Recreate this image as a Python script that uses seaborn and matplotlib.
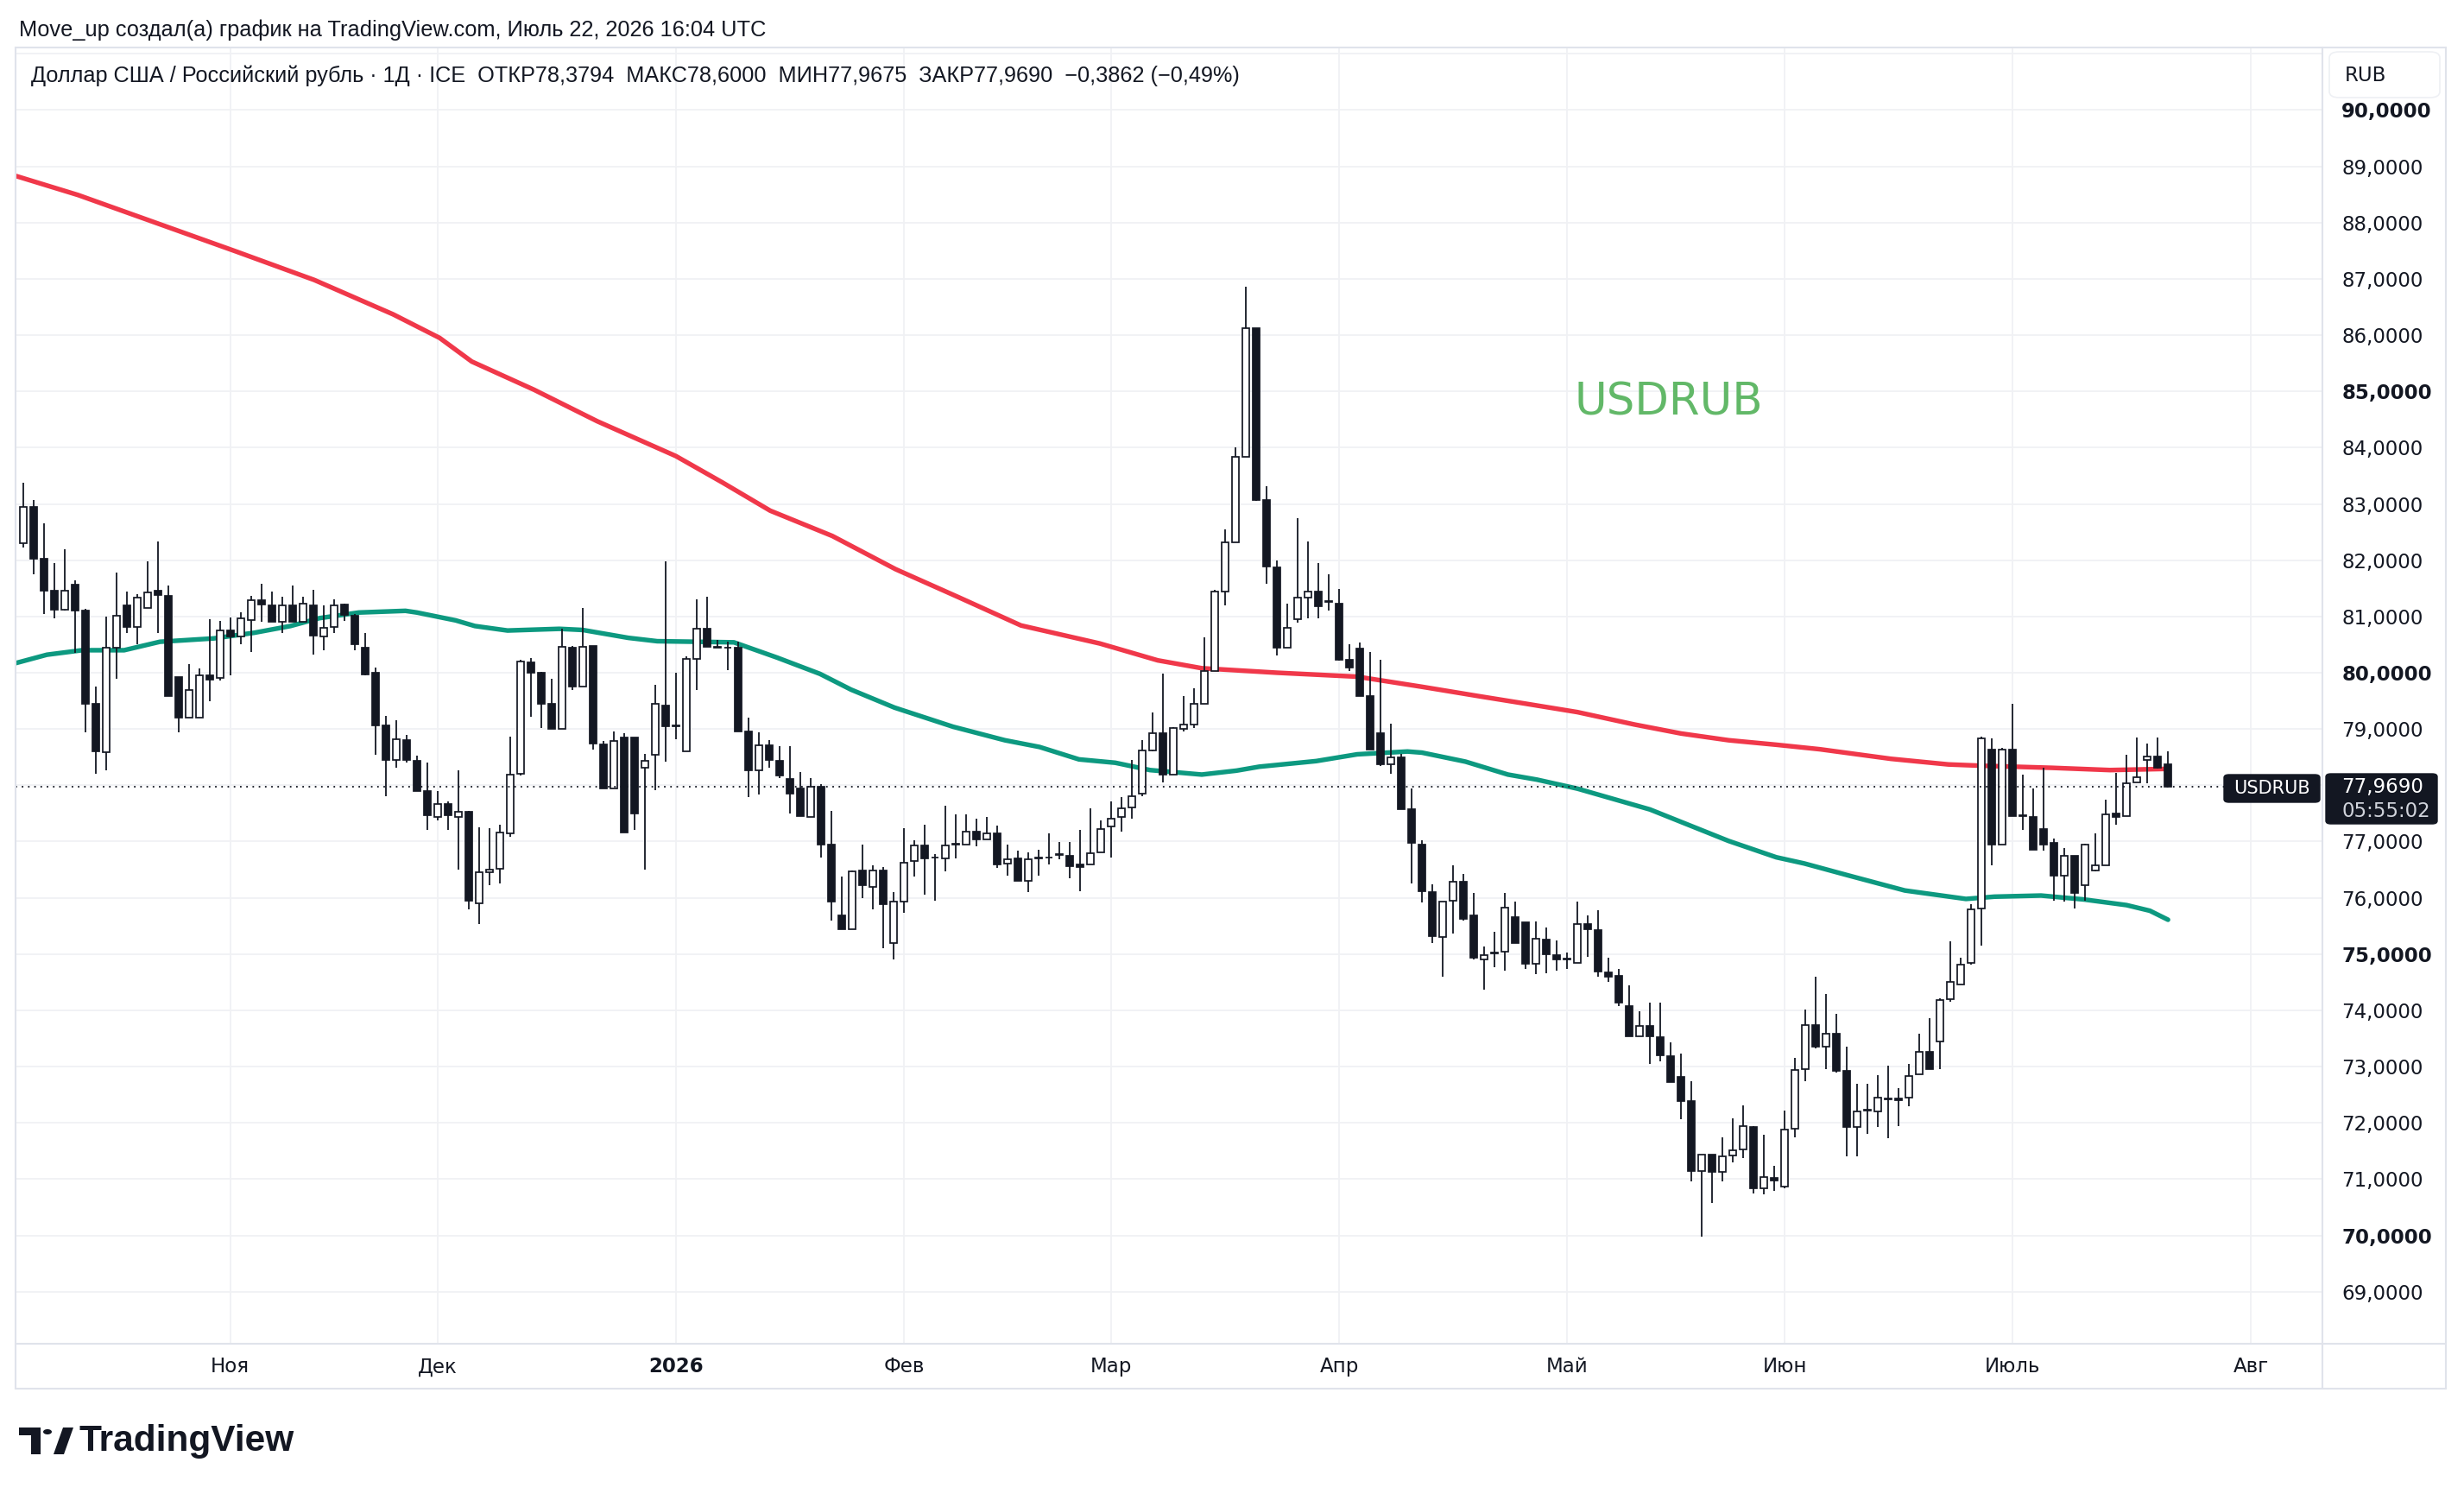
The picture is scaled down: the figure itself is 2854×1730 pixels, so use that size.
import matplotlib
matplotlib.use("Agg")
import matplotlib.pyplot as plt
from matplotlib.lines import Line2D
from matplotlib.patches import FancyBboxPatch, Circle, Polygon, Rectangle
import seaborn as sns
import pandas as pd
import numpy as np

# --- дневные свечи USDRUB ---
opens = [82.30, 82.94, 82.02, 81.46, 81.12, 81.56, 81.10, 79.45, 78.59, 80.45,
         81.19, 80.81, 81.15, 81.46, 81.36, 79.93, 79.20, 79.20, 79.96, 79.91,
         80.75, 80.65, 80.93, 81.29, 81.20, 80.91, 81.20, 80.90, 81.20, 80.65,
         80.81, 81.21, 81.01, 80.44, 80.00, 79.07, 78.45, 78.81, 78.44, 77.90,
         77.44, 77.66, 77.44, 77.53, 75.90, 76.45, 76.51, 77.15, 78.20, 80.19,
         80.00, 79.44, 79.00, 80.44, 79.75, 80.48, 78.73, 77.94, 78.85, 78.85,
         78.31, 78.54, 79.42, 79.05, 78.61, 80.25, 80.78, 80.46, 80.45, 80.44,
         78.96, 78.27, 78.71, 78.44, 78.11, 77.94, 77.44, 77.98, 76.94, 75.68,
         75.44, 76.48, 76.19, 76.48, 75.19, 75.94, 76.65, 76.93, 76.71, 76.70,
         76.95, 76.95, 77.18, 77.04, 77.15, 76.61, 76.70, 76.30, 76.70, 76.71,
         76.76, 76.74, 76.60, 76.60, 76.81, 77.27, 77.44, 77.61, 77.85, 78.62,
         78.92, 78.19, 79.00, 79.08, 79.45, 80.03, 81.45, 82.32, 83.84, 86.12,
         83.07, 81.87, 80.44, 80.95, 81.33, 81.45, 81.27, 81.22, 80.23, 80.43,
         79.58, 78.93, 78.37, 78.50, 77.57, 76.95, 76.10, 75.30, 75.95, 76.28,
         75.68, 74.91, 75.01, 75.05, 75.65, 75.56, 74.83, 75.25, 74.98, 74.91,
         74.84, 75.54, 75.43, 74.67, 74.61, 74.07, 73.54, 73.73, 73.53, 73.18,
         72.82, 72.38, 71.15, 71.43, 71.13, 71.42, 71.53, 71.92, 70.84, 71.02,
         70.87, 71.89, 72.96, 73.74, 73.35, 73.58, 72.93, 71.93, 72.22, 72.21,
         72.42, 72.43, 72.45, 72.86, 73.27, 73.44, 74.20, 74.46, 74.85, 75.81,
         78.64, 76.95, 78.64, 77.45, 77.44, 77.22, 76.97, 76.39, 76.75, 76.23,
         76.48, 76.58, 77.50, 77.45, 78.05, 78.45, 78.51, 78.3794]
highs = [83.38, 83.07, 82.66, 81.95, 82.20, 81.64, 81.13, 79.75, 81.00, 81.78,
         81.44, 81.39, 81.98, 82.33, 81.55, 79.93, 80.15, 80.07, 80.95, 80.92,
         80.98, 81.07, 81.37, 81.58, 81.44, 81.35, 81.55, 81.35, 81.48, 81.20,
         81.30, 81.22, 81.04, 80.70, 80.09, 79.23, 79.16, 78.90, 78.53, 78.40,
         77.90, 77.72, 78.26, 77.55, 77.26, 77.23, 77.30, 78.87, 80.23, 80.26,
         80.01, 79.89, 80.79, 80.47, 81.15, 80.48, 78.78, 78.96, 78.92, 78.85,
         78.56, 79.78, 81.98, 80.00, 80.29, 81.30, 81.35, 80.59, 80.55, 80.56,
         79.20, 78.94, 78.80, 78.70, 78.70, 78.24, 78.13, 78.02, 77.54, 76.38,
         76.48, 76.94, 76.58, 76.55, 76.10, 77.23, 77.02, 77.30, 76.77, 77.63,
         77.49, 77.49, 77.40, 77.44, 77.29, 76.94, 76.84, 76.80, 76.85, 77.15,
         76.99, 76.99, 77.21, 77.59, 77.37, 77.71, 77.79, 78.45, 78.81, 79.29,
         79.99, 79.04, 79.58, 79.73, 80.63, 81.47, 82.55, 84.01, 86.86, 86.13,
         83.32, 81.99, 81.23, 82.74, 82.33, 81.95, 81.75, 81.49, 80.50, 80.54,
         80.37, 80.23, 79.09, 78.56, 77.94, 77.02, 76.24, 75.94, 76.58, 76.43,
         76.08, 75.13, 75.39, 76.08, 75.94, 75.56, 75.58, 75.48, 75.24, 75.02,
         75.93, 75.69, 75.78, 74.93, 74.73, 74.44, 73.98, 74.14, 74.14, 73.43,
         73.23, 72.74, 71.44, 71.43, 71.74, 72.08, 72.31, 71.94, 71.79, 71.24,
         72.22, 73.16, 74.02, 74.60, 74.29, 73.94, 73.35, 72.69, 72.69, 72.85,
         73.01, 72.62, 73.04, 73.59, 73.86, 74.22, 75.22, 74.94, 75.89, 78.86,
         78.83, 78.67, 79.45, 78.19, 77.94, 78.31, 77.06, 76.89, 76.75, 76.96,
         77.15, 77.74, 78.22, 78.54, 78.85, 78.74, 78.85, 78.6000]
lows = [82.22, 81.75, 81.04, 80.96, 81.10, 80.35, 78.94, 78.20, 78.26, 79.90,
        80.71, 80.51, 81.15, 80.70, 79.59, 78.94, 79.20, 79.20, 79.50, 79.86,
        79.96, 80.51, 80.37, 80.91, 80.91, 80.70, 80.91, 80.90, 80.32, 80.40,
        80.71, 80.92, 80.40, 79.95, 78.54, 77.81, 78.31, 78.40, 77.90, 77.20,
        77.37, 77.21, 76.50, 75.80, 75.53, 76.23, 76.26, 77.08, 78.18, 79.21,
        79.02, 79.00, 79.00, 79.70, 79.75, 78.63, 77.94, 77.94, 77.16, 77.20,
        76.50, 77.91, 78.42, 78.82, 78.61, 79.70, 80.46, 80.45, 80.05, 78.95,
        77.79, 77.83, 78.31, 78.13, 77.50, 77.45, 77.44, 76.72, 75.59, 75.44,
        75.44, 75.99, 75.80, 75.11, 74.90, 75.74, 76.38, 76.06, 75.95, 76.47,
        76.70, 76.95, 76.92, 77.04, 76.53, 76.39, 76.30, 76.10, 76.39, 76.60,
        76.69, 76.34, 76.11, 76.60, 76.81, 76.71, 77.17, 77.40, 77.80, 78.61,
        78.05, 78.19, 78.95, 79.01, 79.45, 80.03, 81.19, 82.32, 83.84, 83.06,
        81.58, 80.31, 80.44, 80.89, 80.96, 80.97, 81.11, 80.21, 80.03, 79.59,
        78.63, 78.35, 78.20, 77.57, 76.25, 75.92, 75.19, 74.59, 75.36, 75.59,
        74.91, 74.36, 74.76, 74.70, 75.20, 74.74, 74.64, 74.66, 74.70, 74.73,
        74.84, 74.95, 74.60, 74.51, 74.07, 73.54, 73.54, 73.04, 73.09, 72.72,
        72.06, 70.96, 69.98, 70.58, 70.96, 71.30, 71.38, 70.74, 70.73, 70.79,
        70.84, 71.74, 72.74, 73.32, 72.96, 72.90, 71.41, 71.41, 71.80, 71.93,
        71.72, 71.94, 72.30, 72.86, 72.96, 72.96, 74.15, 74.46, 74.81, 75.15,
        76.57, 76.95, 77.45, 77.21, 76.85, 76.84, 75.95, 75.94, 75.81, 75.95,
        76.47, 76.58, 77.30, 77.45, 78.05, 78.04, 78.30, 77.9675]
closes = [82.94, 82.02, 81.46, 81.12, 81.46, 81.10, 79.44, 78.60, 80.44, 81.01,
          80.81, 81.33, 81.43, 81.38, 79.59, 79.20, 79.69, 79.96, 79.88, 80.75,
          80.65, 80.96, 81.29, 81.21, 80.91, 81.20, 80.91, 81.22, 80.66, 80.80,
          81.20, 81.03, 80.51, 79.97, 79.07, 78.45, 78.82, 78.45, 77.90, 77.46,
          77.67, 77.46, 77.53, 75.95, 76.46, 76.50, 77.16, 78.19, 80.20, 80.00,
          79.45, 79.00, 80.46, 79.75, 80.46, 78.74, 77.94, 78.79, 77.16, 77.50,
          78.44, 79.44, 79.05, 79.05, 80.25, 80.79, 80.46, 80.45, 80.44, 78.95,
          78.27, 78.71, 78.45, 78.18, 77.85, 77.45, 77.98, 76.94, 75.93, 75.44,
          76.47, 76.23, 76.48, 75.88, 75.94, 76.63, 76.93, 76.70, 76.71, 76.93,
          76.96, 77.18, 77.04, 77.15, 76.59, 76.69, 76.30, 76.69, 76.71, 76.71,
          76.77, 76.56, 76.55, 76.79, 77.22, 77.41, 77.59, 77.81, 78.62, 78.92,
          78.19, 79.01, 79.08, 79.44, 80.03, 81.45, 82.32, 83.84, 86.12, 83.07,
          81.89, 80.44, 80.80, 81.33, 81.45, 81.18, 81.26, 80.23, 80.09, 79.59,
          78.63, 78.37, 78.49, 77.57, 76.97, 76.12, 75.32, 75.94, 76.28, 75.63,
          74.93, 74.98, 75.01, 75.82, 75.20, 74.83, 75.27, 75.00, 74.90, 74.91,
          75.54, 75.44, 74.69, 74.60, 74.13, 73.54, 73.73, 73.54, 73.20, 72.72,
          72.38, 71.15, 71.43, 71.13, 71.41, 71.52, 71.94, 70.84, 71.03, 70.98,
          71.88, 72.94, 73.74, 73.35, 73.58, 72.93, 71.93, 72.21, 72.22, 72.45,
          72.43, 72.40, 72.84, 73.27, 72.96, 74.18, 74.50, 74.82, 75.80, 78.83,
          76.95, 78.64, 77.45, 77.45, 76.85, 76.94, 76.39, 76.74, 76.09, 76.94,
          76.57, 77.49, 77.44, 78.04, 78.14, 78.51, 78.31, 77.9690]

# скользящие средние (позиция бара, значение)
ma_red_x = [-0.73, 5.3, 12.9, 20.5, 28.1, 35.7, 40.2, 43.3, 49.3, 55.4, 63.0, 67.5,
            72.1, 78.1, 84.2, 90.3, 96.3, 103.9, 105.4, 109.5, 113.75, 121.0, 128.75,
            135.0, 140.6, 145.0, 150.0, 155.5, 160.0, 164.6, 169.2, 173.4, 180.25,
            185.8, 188.6, 190.25, 195.8, 201.4, 206.6, 207.0]
ma_red_y = [88.83, 88.49, 87.99, 87.49, 86.98, 86.37, 85.95, 85.53, 85.03, 84.47,
            83.85, 83.38, 82.88, 82.43, 81.84, 81.34, 80.84, 80.52, 80.44, 80.22,
            80.08, 80.00, 79.93, 79.75, 79.58, 79.45, 79.30, 79.08, 78.92, 78.80,
            78.72, 78.64, 78.47, 78.37, 78.35, 78.34, 78.31, 78.27, 78.29, 78.30]
ma_green_x = [-0.73, 2.3, 5.7, 9.75, 13.2, 18.4, 22.3, 25.8, 28.6, 32.4, 36.9, 38.0,
              41.75, 43.6, 46.75, 51.75, 54.0, 58.4, 61.2, 65.1, 68.6, 72.75, 76.9,
              79.9, 84.1, 89.75, 94.75, 98.1, 101.9, 105.4, 108.75, 113.75, 117.1,
              119.3, 124.8, 128.75, 133.6, 135.0, 139.2, 143.3, 146.1, 150.0, 157.0,
              164.6, 169.2, 171.9, 176.1, 181.6, 187.5, 190.25, 194.75, 198.9, 203.0,
              205.25, 207.0]
ma_green_y = [80.17, 80.32, 80.40, 80.40, 80.55, 80.61, 80.71, 80.83, 80.97, 81.07,
              81.10, 81.07, 80.93, 80.83, 80.75, 80.78, 80.76, 80.62, 80.56, 80.55,
              80.54, 80.27, 79.98, 79.70, 79.38, 79.04, 78.80, 78.68, 78.46, 78.40,
              78.27, 78.19, 78.26, 78.33, 78.43, 78.55, 78.60, 78.58, 78.42, 78.19,
              78.10, 77.94, 77.57, 77.01, 76.72, 76.61, 76.40, 76.13, 75.98, 76.02,
              76.04, 75.97, 75.87, 75.77, 75.61]

month_pos = [20, 40, 63, 85, 105, 127, 149, 170, 192, 215]
month_labels = ['Ноя', 'Дек', '2026', 'Фев', 'Мар', 'Апр', 'Май', 'Июн', 'Июль', 'Авг']
price_ticks = list(range(69, 92))
last_price = 77.969

W, H = 2854, 1730
dark = '#131722'
frame_col = '#e0e3eb'

sns.set_theme(style="white")
plt.rcParams['font.family'] = ['DejaVu Sans']

fig = plt.figure(figsize=(W / 100, H / 100), dpi=100)
ax = fig.add_axes([18 / W, 1 - 1556 / H, (2690 - 18) / W, (1556 - 56) / H])

df = pd.DataFrame({'open': opens, 'high': highs, 'low': lows, 'close': closes})
df['x'] = np.arange(len(df))
df['up'] = df['close'] >= df['open']
df['bottom'] = df[['open', 'close']].min(axis=1)
df['height'] = (df['close'] - df['open']).abs().clip(lower=0.012)

# линии средних под свечами
sns.lineplot(x=ma_red_x, y=ma_red_y, ax=ax, color='#f0384a', linewidth=3.9,
             estimator=None, zorder=2, solid_joinstyle='round')
sns.lineplot(x=ma_green_x, y=ma_green_y, ax=ax, color='#0d9980', linewidth=3.9,
             estimator=None, zorder=2, solid_joinstyle='round')

# свечи
ax.vlines(df['x'], df['low'], df['high'], color=dark, linewidth=1.3, zorder=3)
up = df[df['up']]
dn = df[~df['up']]
ax.bar(up['x'], up['height'], bottom=up['bottom'], width=0.64, color='white',
       edgecolor=dark, linewidth=1.25, zorder=4)
ax.bar(dn['x'], dn['height'], bottom=dn['bottom'], width=0.64, color=dark,
       edgecolor=dark, linewidth=1.25, zorder=4)

ax.axhline(last_price, color=dark, linestyle=(0, (1, 3)), linewidth=1.3, zorder=5)

ax.text(158.8, 84.80, 'USDRUB', color='#62b868', fontsize=37, ha='center',
        va='center', zorder=6)

ax.set_xlim(-0.73, 221.9)
ax.set_ylim(68.075, 91.096)

# оси
ax.yaxis.tick_right()
ax.set_yticks(price_ticks)
ylabels = []
for p in price_ticks:
    if p in (78, 91):
        ylabels.append('')
    else:
        ylabels.append(f'{p},0000')
ax.set_yticklabels(ylabels)
for t, p in zip(ax.get_yticklabels(), price_ticks):
    if p % 5 == 0:
        t.set_fontweight('bold')
ax.tick_params(axis='y', length=0, pad=16, labelsize=16.5, labelcolor=dark)

ax.set_xticks(month_pos)
ax.set_xticklabels(month_labels)
for t in ax.get_xticklabels():
    if t.get_text() == '2026':
        t.set_fontweight('bold')
ax.tick_params(axis='x', length=0, pad=11, labelsize=16.5, labelcolor=dark)

ax.grid(True, color='#f0f1f4', linewidth=1.3, zorder=0)
ax.set_axisbelow(True)
for s in ax.spines.values():
    s.set_visible(False)


def fx(px):
    return px / W


def fy(py):
    return 1 - py / H


# рамка панели
for (x0, y0, x1, y1) in [(18, 55, 2833, 55), (18, 1608, 2833, 1608), (18, 55, 18, 1608),
                         (2833, 55, 2833, 1608), (2690, 55, 2690, 1608),
                         (18, 1556, 2833, 1556)]:
    fig.add_artist(Line2D([fx(x0), fx(x1)], [fy(y0), fy(y1)], color=frame_col,
                          linewidth=1.5, transform=fig.transFigure))

# заголовки
fig.text(fx(22), fy(35), 'Move_up создал(а) график на TradingView.com, Июль 22, 2026 16:04 UTC',
         fontsize=18.3, color=dark, va='center', ha='left',
         family=['Liberation Sans', 'DejaVu Sans'])
fig.text(fx(36), fy(88),
         'Доллар США / Российский рубль · 1Д · ICE  ОТКР78,3794  МАКС78,6000  '
         'МИН77,9675  ЗАКР77,9690  −0,3862 (−0,49%)',
         fontsize=18.2, color=dark, va='center', ha='left',
         family=['Liberation Sans', 'DejaVu Sans'])

# подпись валюты
fig.patches.append(FancyBboxPatch((fx(2698), fy(113)), fx(2826) - fx(2698), fy(60) - fy(113),
                                  boxstyle='round,pad=0,rounding_size=0.004',
                                  transform=fig.transFigure, facecolor='white',
                                  edgecolor='#eef0f4', linewidth=1.2))
fig.text(fx(2716), fy(87), 'RUB', fontsize=16.5, color=dark, va='center', ha='left')

# метка последней цены
fig.patches.append(FancyBboxPatch((fx(2694), fy(954)), fx(2823) - fx(2694), fy(896) - fy(954),
                                  boxstyle='round,pad=0,rounding_size=0.002',
                                  transform=fig.transFigure, facecolor=dark,
                                  edgecolor=dark, zorder=10))
fig.text(fx(2712), fy(912), '77,9690', fontsize=16.5, color='white', va='center',
         ha='left', zorder=11)
fig.text(fx(2712), fy(939), '05:55:02', fontsize=16.5, color='#d1d4dc', va='center',
         ha='left', zorder=11)
fig.patches.append(FancyBboxPatch((fx(2576), fy(929)), fx(2687) - fx(2576), fy(897) - fy(929),
                                  boxstyle='round,pad=0,rounding_size=0.002',
                                  transform=fig.transFigure, facecolor=dark,
                                  edgecolor=dark, zorder=10))
fig.text(fx(2631), fy(913), 'USDRUB', fontsize=15, color='white', va='center',
         ha='center', zorder=11)

# логотип TradingView
fig.patches.append(Rectangle((fx(22), fy(1662)), fx(47) - fx(22), fy(1653) - fy(1662),
                             transform=fig.transFigure, facecolor=dark, edgecolor='none'))
fig.patches.append(Rectangle((fx(36), fy(1684)), fx(47) - fx(36), fy(1653) - fy(1684),
                             transform=fig.transFigure, facecolor=dark, edgecolor='none'))
fig.patches.append(Circle((fx(55), fy(1658)), 5 / W, transform=fig.transFigure,
                          facecolor=dark, edgecolor='none'))
fig.patches.append(Polygon([(fx(62), fy(1684)), (fx(73), fy(1653)), (fx(85), fy(1653)),
                            (fx(74), fy(1684))], closed=True, transform=fig.transFigure,
                           facecolor=dark, edgecolor='none'))
fig.text(fx(91), fy(1669), 'TradingView', fontsize=30.5, fontweight='bold', color=dark,
         va='center', ha='left', family=['Liberation Sans', 'DejaVu Sans'])

fig.savefig('out.png', dpi=100, facecolor='white')
